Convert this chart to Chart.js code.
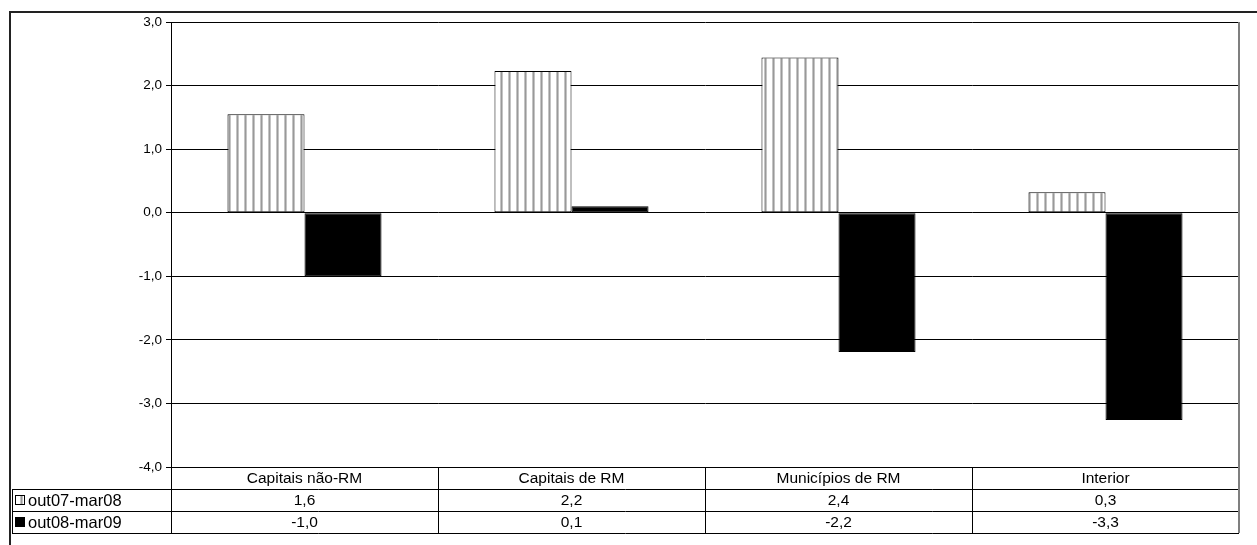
<!DOCTYPE html>
<html><head><meta charset="utf-8">
<script src="https://cdn.jsdelivr.net/npm/chart.js@4"></script>
<style>html,body{margin:0;padding:0;background:#fff;overflow:hidden}#c{display:block}</style>
</head><body>
<canvas id="c" width="1257" height="545"></canvas>
<script>
const categories = ["Capitais não-RM", "Capitais de RM", "Municípios de RM", "Interior"];
const seriesNames = ["out07-mar08", "out08-mar09"];
const values1 = [1.55, 2.23, 2.44, 0.32];
const values2 = [-1.0, 0.1, -2.19, -3.26];
const yTicks = [3, 2, 1, 0, -1, -2, -3, -4];

const FONT = '"Liberation Sans", Arial, sans-serif';
const fmt = v => v.toFixed(1).replace('.', ',');

// hatch pattern (vertical stripes)
function makeHatch() {
  const p = document.createElement('canvas');
  p.width = 8; p.height = 8;
  const g = p.getContext('2d');
  g.fillStyle = '#ffffff'; g.fillRect(0, 0, 8, 8);
  g.fillStyle = '#999999'; g.fillRect(5, 0, 1, 8);
  g.fillStyle = '#c4c4c4'; g.fillRect(4, 0, 1, 8); g.fillRect(6, 0, 1, 8);
  return document.getElementById('c').getContext('2d').createPattern(p, 'repeat');
}
const hatch = makeHatch();

const TABLE_ROW = 22;
const tablePlugin = {
  id: 'tablePlugin',
  afterDraw(chart) {
    const ctx = chart.ctx;
    const a = chart.chartArea;
    const xs = chart.scales.x;
    const n = categories.length;
    const step = (a.right - a.left) / n;
    const top = a.bottom;
    const r1 = top + TABLE_ROW, r2 = r1 + TABLE_ROW, r3 = r2 + TABLE_ROW;
    const legL = 12;
    ctx.save();
    // outer frame
    ctx.strokeStyle = '#222';
    ctx.lineWidth = 2;
    ctx.beginPath();
    ctx.moveTo(10, 545); ctx.lineTo(10, 12); ctx.lineTo(1257, 12);
    ctx.stroke();
    // table lines
    ctx.strokeStyle = '#000';
    ctx.lineWidth = 1;
    ctx.beginPath();
    [r1, r2, r3].forEach(y => { ctx.moveTo(legL, Math.round(y) + 0.5); ctx.lineTo(a.right, Math.round(y) + 0.5); });
    ctx.moveTo(legL + 0.5, r1); ctx.lineTo(legL + 0.5, r3);
    ctx.moveTo(Math.round(a.left) + 0.5, top); ctx.lineTo(Math.round(a.left) + 0.5, r3);
    for (let i = 1; i < n; i++) {
      const x = Math.round(a.left + step * i) + 0.5;
      ctx.moveTo(x, top); ctx.lineTo(x, r3);
    }
    ctx.stroke();
    // right border of plot/table
    ctx.strokeStyle = '#7f7f7f';
    ctx.lineWidth = 2;
    ctx.beginPath();
    ctx.moveTo(Math.round(a.right), a.top); ctx.lineTo(Math.round(a.right), r3);
    ctx.stroke();
    // texts
    ctx.fillStyle = '#000';
    ctx.textAlign = 'center';
    ctx.textBaseline = 'middle';
    ctx.font = '15.5px ' + FONT;
    for (let i = 0; i < n; i++) {
      const cx = xs.getPixelForValue(i);
      ctx.fillText(categories[i], cx, top + TABLE_ROW / 2 + 1);
      ctx.fillText(fmt(values1[i]), cx, r1 + TABLE_ROW / 2 + 1);
      ctx.fillText(fmt(values2[i]), cx, r2 + TABLE_ROW / 2 + 1);
    }
    // legend keys
    ctx.textAlign = 'left';
    ctx.font = '16.5px ' + FONT;
    const keys = [hatch, '#000'];
    [r1, r2].forEach((y, k) => {
      const by = Math.round(y + TABLE_ROW / 2 - 5);
      ctx.fillStyle = keys[k];
      ctx.fillRect(15, by, 10, 10);
      ctx.strokeStyle = '#000'; ctx.lineWidth = 1;
      ctx.strokeRect(15.5, by + 0.5, 9, 9);
      ctx.fillStyle = '#000';
      ctx.fillText(seriesNames[k], 28, y + TABLE_ROW / 2 + 1);
    });
    ctx.restore();
  }
};

new Chart(document.getElementById('c'), {
  type: 'bar',
  data: {
    labels: categories,
    datasets: [
      { label: seriesNames[0], data: values1, backgroundColor: hatch, borderColor: '#000', borderWidth: 1, borderSkipped: false },
      { label: seriesNames[1], data: values2, backgroundColor: '#000', borderColor: '#000', borderWidth: 1, borderSkipped: false }
    ]
  },
  options: {
    responsive: false,
    animation: false,
    devicePixelRatio: 1,
    layout: { padding: { left: 0, top: 22, right: 18, bottom: 545 - 467 } },
    plugins: { legend: { display: false }, tooltip: { enabled: false }, title: { display: false } },
    datasets: { bar: { categoryPercentage: 0.577, barPercentage: 1.0 } },
    scales: {
      x: { display: false },
      y: {
        min: -4, max: 3,
        afterFit(s) { s.width = 171; },
        afterBuildTicks(s) { s.ticks = yTicks.map(v => ({ value: v })); },
        ticks: { font: { family: FONT, size: 13.5 }, color: '#000', padding: 4, callback: v => fmt(v) },
        grid: { color: '#000', lineWidth: 1, tickLength: 5, drawOnChartArea: true },
        border: { display: true, color: '#000', width: 1 }
      }
    }
  },
  plugins: [tablePlugin]
});
</script>
</body></html>
